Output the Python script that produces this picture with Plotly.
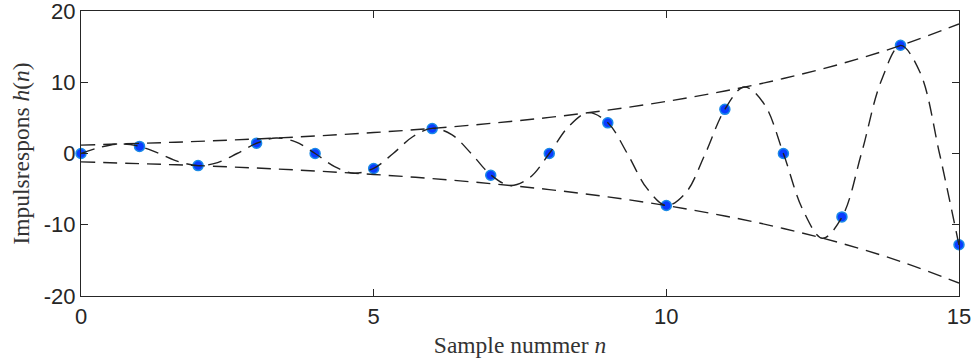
import plotly.graph_objects as go

# Discrete samples h(n)
n = list(range(16))
h = [0, 1.0, -1.7, 1.45, 0, -2.1, 3.5, -3.05, 0, 4.3, -7.3, 6.2, 0, -8.9, 15.2, -12.8]

# Envelope, upper; lower is its negative
env_n = list(range(16))
env_up = [1.18, 1.42, 1.70, 2.04, 2.45, 2.94, 3.52, 4.23, 5.07, 6.09, 7.31, 8.77, 10.52, 12.62, 15.15, 18.18]
env_lo = [-v for v in env_up]

# Continuous dashed curve, sampled every 1/3 sample
curve_t = [k / 3 for k in range(46)]
curve_v = [0, 0.887, 1.333, 1.001, 0, -1.131, -1.699, -1.277, 0, 1.442, 2.167, 1.628, 0,
           -1.839, -2.764, -2.077, 0, 2.346, 3.526, 2.649, 0, -2.992, -4.497, -3.379, 0,
           3.816, 5.736, 4.310, 0, -4.867, -7.315, -5.497, 0, 6.208, 9.330, 7.011, 0,
           -7.919, -11.90, -8.944, 0, 10.10, 15.18, 11.41, 0, -12.88]

x_ticks = [0, 5, 10, 15]
y_ticks = [-20, -10, 0, 10, 20]

dash = "14px,8px"
lc = "#222222"

fig = go.Figure()
fig.add_trace(go.Scatter(x=n, y=h, mode="markers",
                         marker=dict(size=10, color="#0a3cff",
                                     line=dict(color="#1a8ae6", width=1.5)),
                         hoverinfo="x+y", cliponaxis=False))
fig.add_trace(go.Scatter(x=env_n, y=env_up, mode="lines",
                         line=dict(color=lc, width=1.4, dash=dash, shape="spline")))
fig.add_trace(go.Scatter(x=env_n, y=env_lo, mode="lines",
                         line=dict(color=lc, width=1.4, dash=dash, shape="spline")))
fig.add_trace(go.Scatter(x=curve_t, y=curve_v, mode="lines",
                         line=dict(color=lc, width=1.4, dash=dash, shape="spline", smoothing=1.0)))

axis_common = dict(showgrid=False, zeroline=False, showline=True, mirror="ticks",
                   linecolor="#262626", linewidth=1.3, ticks="inside", ticklen=7,
                   tickcolor="#262626", tickwidth=1.2, automargin=False,
                   ticklabeloverflow="allow",
                   tickfont=dict(family="Liberation Sans, Arial", size=22, color="#262626"))

title_font = dict(family="Liberation Serif, Times New Roman, serif", size=23.5, color="#333333")

fig.update_layout(
    width=976, height=361,
    margin=dict(l=81, r=17, t=11, b=65),
    paper_bgcolor="white", plot_bgcolor="white",
    showlegend=False,
    xaxis=dict(range=[0, 15], tickvals=x_ticks, ticktext=[str(v) for v in x_ticks],
               title=dict(text="Sample nummer <i>n</i>", standoff=9, font=title_font),
               **axis_common),
    yaxis=dict(range=[-20, 20], tickvals=y_ticks, ticktext=[str(v) for v in y_ticks],
               title=dict(text="Impulsrespons <i>h</i>(<i>n</i>)", standoff=7, font=title_font),
               **axis_common),
)

fig.write_html("out.html", config={"displayModeBar": False},
               post_script="document.body.style.margin='0';document.body.style.overflow='hidden';")
